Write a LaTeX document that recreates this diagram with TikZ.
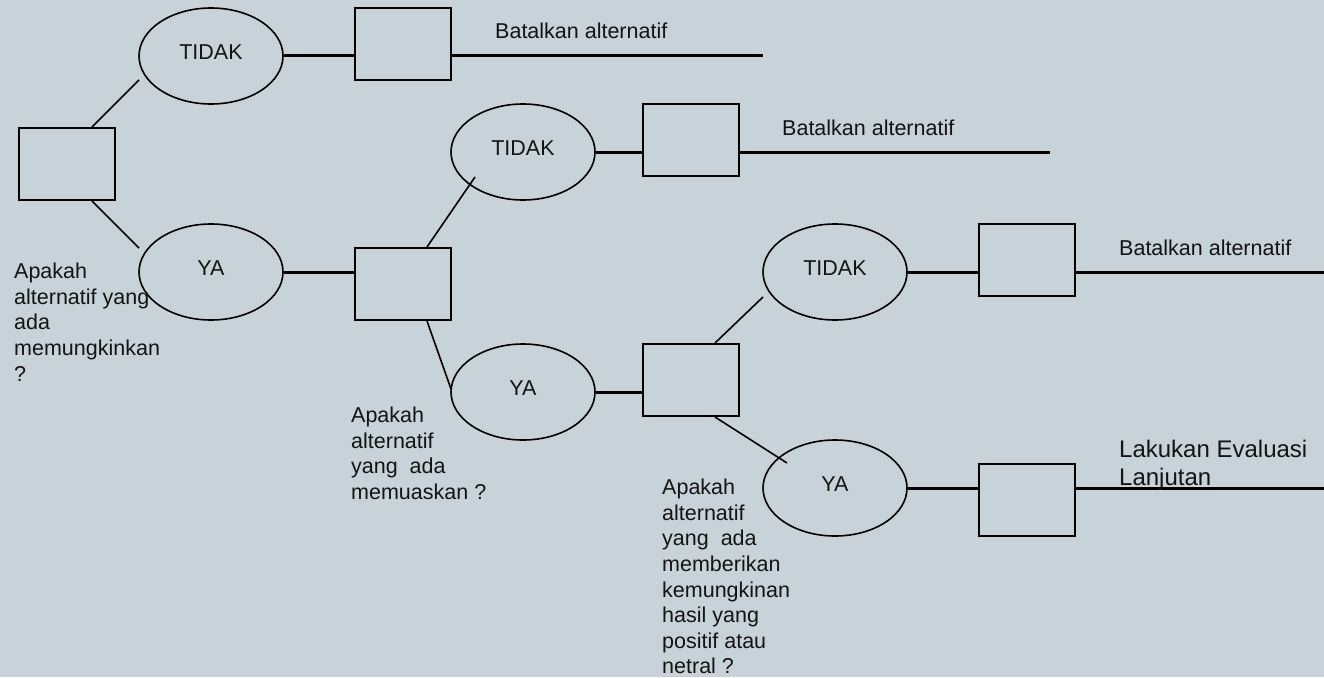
\documentclass[tikz,border=0pt]{standalone}
\usepackage{fontspec}
\setmainfont{Liberation Sans}
\usetikzlibrary{shapes.geometric,calc}
\definecolor{bgc}{RGB}{199,210,217}
\definecolor{ink}{RGB}{20,20,20}
\begin{document}
\begin{tikzpicture}[x=1pt,y=-1pt,
  box/.style={draw, rectangle, minimum width=96pt, minimum height=72pt, inner sep=0pt, line width=2pt},
  oval/.style={draw, ellipse, minimum width=144pt, minimum height=96pt, inner sep=0pt, line width=1.6pt,
     label={[anchor=base, yshift=3.5pt, inner sep=0pt, text=ink, font=\fontsize{21.5}{25}\selectfont]center:#1}},
  hline/.style={line width=3pt},
  dline/.style={line width=1.6pt},
  qtext/.style={anchor=north west, inner sep=0pt, align=left, text=ink, font=\fontsize{21.5}{25.6}\selectfont},
  lbl/.style={anchor=base west, inner sep=0pt, text=ink, font=\fontsize{21.5}{25}\selectfont}
]
\fill[bgc] (0,0) rectangle (1324,677);
\useasboundingbox (0,0) rectangle (1324,677);

% nodes
\node[box] (r0) at (67,164) {};
\node[oval=TIDAK] (t1) at (211,56) {};
\node[oval=YA] (y1) at (211,272) {};
\node[box] (b1t) at (403,44) {};
\node[box] (b1y) at (403,284) {};
\node[oval=TIDAK] (t2) at (523,152) {};
\node[oval=YA] (y2) at (523,392) {};
\node[box] (b2t) at (691,140) {};
\node[box] (b2y) at (691,380) {};
\node[oval=TIDAK] (t3) at (835,272) {};
\node[oval=YA] (y3) at (835,488) {};
\node[box] (b3t) at (1027,260) {};
\node[box] (b3y) at (1027,500) {};

\coordinate (e1) at (763,56);
\coordinate (e2) at (1050,152);
\coordinate (e3) at (1324,272);
\coordinate (e4) at (1324,488);

% diagonal connectors
\draw[dline] ($(r0)+(25,-37)$) -- ($(t1)+(-72,24)$);
\draw[dline] ($(r0)+(25,37)$) -- ($(y1)+(-72,-24)$);
\draw[dline] ($(b1y)+(24,-37)$) -- ($(t2)+(-48,25)$);
\draw[dline] ($(b1y)+(24,37)$) -- ($(y2)+(-72,-3)$);
\draw[dline] ($(b2y)+(24,-37)$) -- ($(t3)+(-72,25)$);
\draw[dline] ($(b2y)+(24,37)$) -- ($(y3)+(-48,-25)$);

% horizontal connectors
\draw[hline] (t1.east) -- (t1.east -| b1t.west);
\draw[hline] (b1t.east |- t1.east) -- (e1);
\draw[hline] (y1.east) -- (y1.east -| b1y.west);
\draw[hline] (t2.east) -- (t2.east -| b2t.west);
\draw[hline] (b2t.east |- t2.east) -- (e2);
\draw[hline] (y2.east) -- (y2.east -| b2y.west);
\draw[hline] (t3.east) -- (t3.east -| b3t.west);
\draw[hline] (b3t.east |- t3.east) -- (e3);
\draw[hline] (y3.east) -- (y3.east -| b3y.west);
\draw[hline] (b3y.east |- y3.east) -- (e4);

% texts
\node[lbl] (n1) at (495,38) {Batalkan alternatif};
\node[lbl] (n2) at (782,135) {Batalkan alternatif};
\node[lbl] (n3) at (1119,255) {Batalkan alternatif};
\node[qtext, font=\fontsize{24}{28}\selectfont] (n4) at (1119,440) {Lakukan Evaluasi\\Lanjutan};
\node[qtext] (q1) at (14,263) {Apakah\\alternatif yang\\ada\\memungkinkan\\?};
\node[qtext] (q2) at (351,407) {Apakah\\alternatif\\yang~~ada\\memuaskan ?};
\node[qtext] (q3) at (662,479) {Apakah\\alternatif\\yang~~ada\\memberikan\\kemungkinan\\hasil yang\\positif atau\\netral ?};
\end{tikzpicture}
\end{document}
